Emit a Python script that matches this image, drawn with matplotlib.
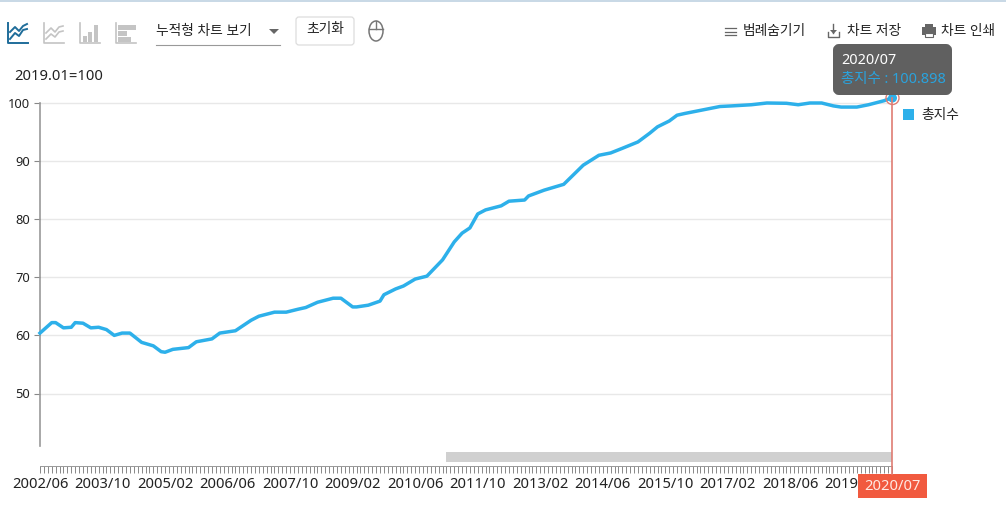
import matplotlib
matplotlib.use("Agg")
import matplotlib.pyplot as plt
from matplotlib.patches import Rectangle, FancyBboxPatch, Polygon, Circle, Ellipse

plt.rcParams['font.family'] = ['Noto Sans', 'Noto Sans CJK KR', 'DejaVu Sans']

W, H = 1006, 513
series_name = "총지수"
months_since_start = [0, 3, 4, 6, 8, 9, 11, 13, 15, 17, 19, 21, 23, 26, 29, 31, 32, 34, 38, 40, 44, 46, 50, 54, 56,
                      60, 63, 66, 68, 71, 75, 77, 80, 81, 84, 87, 88, 91, 93, 96, 99, 103, 106, 108, 110, 112, 114,
                      118, 120, 124, 125, 129, 134, 139, 143, 146, 149, 153, 156, 158, 161, 163, 165, 168, 171, 174,
                      177, 182, 186, 191, 194, 197, 200, 203, 205, 209, 212, 216, 218]
index_values = [60.4, 62.2, 62.2, 61.3, 61.4, 62.2, 62.1, 61.3, 61.4, 61.0, 60.0, 60.4, 60.4, 58.8, 58.2, 57.2, 57.1,
                57.6, 57.9, 58.9, 59.4, 60.4, 60.8, 62.6, 63.3, 64.0, 64.0, 64.5, 64.8, 65.7, 66.4, 66.4, 64.9, 64.9,
                65.2, 65.9, 67.0, 68.0, 68.5, 69.7, 70.2, 73.0, 76.1, 77.6, 78.5, 80.9, 81.6, 82.3, 83.1, 83.3, 84.0,
                85.0, 86.0, 89.3, 91.0, 91.4, 92.2, 93.3, 94.8, 95.9, 96.9, 97.9, 98.2, 98.6, 99.0, 99.4, 99.5, 99.7,
                100.0, 99.95, 99.7, 100.0, 100.0, 99.5, 99.3, 99.3, 99.7, 100.4, 100.898]
x_tick_labels = ["2002/06", "2003/10", "2005/02", "2006/06", "2007/10", "2009/02", "2010/06", "2011/10",
                 "2013/02", "2014/06", "2015/10", "2017/02", "2018/06", "2019/10"]
y_ticks = [50, 60, 70, 80, 90, 100]
last_label = "2020/07"
last_value = 100.898

LINE = "#2db0ea"
TXT = "#222222"
FS = 9.9
LATIN = 10.6

fig = plt.figure(figsize=(W / 100, H / 100), dpi=100, facecolor="white")

def frac(x0, y0, x1, y1):
    return [x0 / W, 1 - y1 / H, (x1 - x0) / W, (y1 - y0) / H]

ax = fig.add_axes(frac(40, 80, 892, 446))
PX = 5.81
ax.set_xlim(0, months_since_start[-1])
ax.set_ylim(100 - (446 - 103) / PX, 100 + (103 - 80) / PX)
ax.plot(months_since_start, index_values, color=LINE, lw=2.5, solid_joinstyle="round", clip_on=False, zorder=3)
ax.set_yticks(y_ticks)
ax.set_yticklabels([str(v) for v in y_ticks], fontsize=9.3, color=TXT)
ax.tick_params(axis="y", length=4, width=0.8, color="#888888", pad=3)
ax.grid(axis="y", color="#e8e8e8", lw=1)
ax.set_axisbelow(True)
for s in ("top", "right"):
    ax.spines[s].set_visible(False)
ax.spines["left"].set_color("#999999")
ax.spines["left"].set_linewidth(1.2)
ax.spines["left"].set_bounds(100 - (446 - 103) / PX, 100)
ax.spines["bottom"].set_position(("outward", 20 * 0.72))
ax.spines["bottom"].set_color("#999999")
ax.spines["bottom"].set_linewidth(0.7)
ax.set_xticks(range(0, months_since_start[-1] + 1), minor=True)
ax.set_xticks(range(0, 16 * len(x_tick_labels), 16))
ax.set_xticklabels(x_tick_labels, fontsize=LATIN, color=TXT)
ax.tick_params(axis="x", which="both", length=5, width=0.7, color="#888888", pad=3)

# overlay in pixel coordinates
ov = fig.add_axes([0, 0, 1, 1], facecolor="none")
ov.set_xlim(0, W)
ov.set_ylim(H, 0)
ov.axis("off")

def text(x, y, s, **kw):
    kw.setdefault("fontsize", FS)
    kw.setdefault("color", TXT)
    kw.setdefault("va", "center")
    ov.text(x, y, s, **kw)

ov.add_patch(Rectangle((0, 0), W, 1.5, color="#c9d9e6", lw=0))
# range bar
ov.add_patch(Rectangle((446, 452), 446, 10, color="#d0d0d0", lw=0))
# cursor
ov.plot([892, 892], [98, 474], color="#df7d73", lw=1.2)
ov.add_patch(Circle((892.5, 98), 6.5, fc="none", ec="#df7d73", lw=1))
ov.add_patch(Circle((892.5, 98), 4.5, fc=LINE, ec="none"))
ov.add_patch(Rectangle((858, 474), 69, 24, color="#f15a3f", lw=0))
text(892.5, 486, last_label, color="#ffe9e2", ha="center", fontsize=LATIN)
# tooltip
ov.add_patch(FancyBboxPatch((836, 47), 113, 45, boxstyle="round,pad=0,rounding_size=3", mutation_aspect=1,
                            fc="#606060", ec="#606060", lw=6 * 0.72, joinstyle="round"))
text(841, 61, last_label, color="white", fontsize=10.4)
text(841, 79, f"{series_name} : {last_value}", color="#2aa3dd", fontsize=10.4)
# legend
ov.add_patch(Rectangle((903, 109), 11, 11, color=LINE, lw=0))
text(921, 115, series_name)
# unit
text(14, 76, "2019.01=100", fontsize=LATIN)
# toolbar
text(156, 32, "누적형 차트 보기")
ov.plot([156, 280], [45, 45], color="#999999", lw=0.8)
ov.add_patch(Polygon([[269, 29], [279, 29], [274, 34]], color="#666666", lw=0))
ov.add_patch(FancyBboxPatch((296, 17), 58, 28, boxstyle="round,pad=0,rounding_size=3", fc="white", ec="#dddddd", lw=0.9))
text(325, 30, "초기화", ha="center")
ov.add_patch(Ellipse((376, 31), 14, 20, fc="none", ec="#777777", lw=1.1))
ov.plot([369, 383], [29, 29], color="#777777", lw=1)
ov.plot([376, 376], [21, 29], color="#777777", lw=1)
text(743, 31, "범례숨기기")
text(847, 31, "차트 저장")
text(941, 31, "차트 인쇄")

# left icons
C = "#1f6d9a"
G = "#c4c4c4"
ov.plot([8, 8, 28], [23, 43, 43], color=C, lw=1.4)
ov.plot([10, 15, 19, 23, 27], [32, 27, 31, 26, 24], color=C, lw=1.4)
ov.plot([10, 15, 19, 23, 27], [39, 33, 36, 30, 29], color=C, lw=1.4)
ov.plot([44, 44, 64], [23, 43, 43], color=G, lw=1.2)
ov.plot([46, 51, 55, 59, 63], [33, 28, 32, 27, 26], color=G, lw=1.2)
ov.plot([46, 51, 55, 59, 63], [39, 34, 37, 32, 31], color=G, lw=1.2)
ov.plot([80, 80, 100], [23, 43, 43], color=G, lw=1.2)
for x, top in ((83, 36), (88, 32), (94, 25)):
    ov.add_patch(Rectangle((x, top), 4.5, 42 - top, color=G, lw=0))
ov.plot([116, 116, 136], [23, 43, 43], color=G, lw=1.2)
for y, w in ((25, 18), (31, 9), (37, 13)):
    ov.add_patch(Rectangle((118, y), w, 4.5, color=G, lw=0))
# right icons
D = "#666666"
for y in (28, 31.5, 35):
    ov.plot([725, 736], [y, y], color=D, lw=0.9)
ov.plot([828, 828, 839, 839], [32, 37, 37, 32], color=D, lw=1)
ov.plot([833.5, 833.5], [24, 33], color=D, lw=1)
ov.add_patch(Polygon([[830, 30], [837, 30], [833.5, 34]], color=D, lw=0))
ov.add_patch(Rectangle((922, 27), 14, 8, color=D, lw=0))
ov.add_patch(Rectangle((925, 24), 8, 3, color=D, lw=0))
ov.add_patch(Rectangle((925, 33), 8, 4, fc="white", ec=D, lw=0.8))

fig.savefig("out.png", dpi=100)
